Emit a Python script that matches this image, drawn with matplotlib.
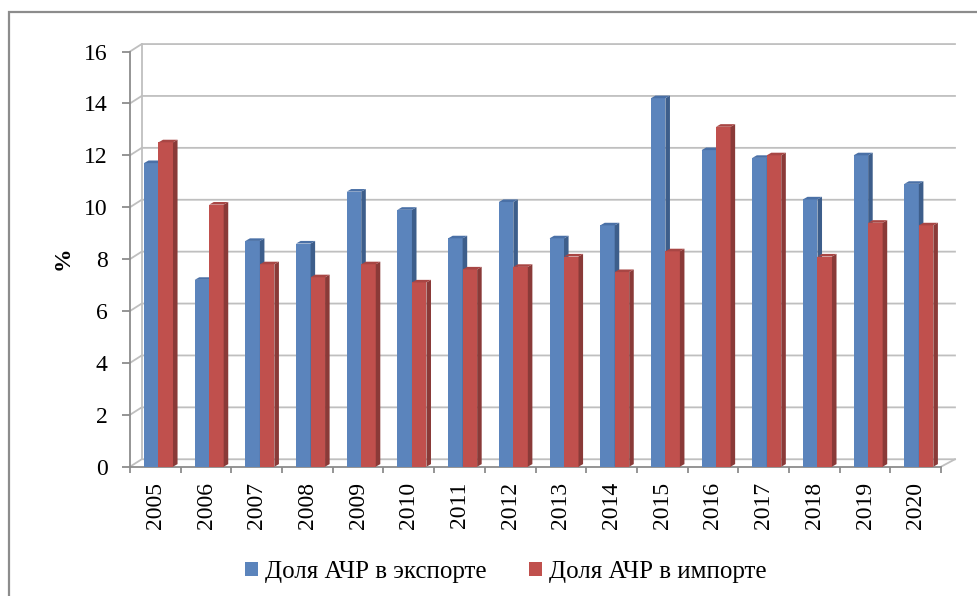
import numpy as np
import matplotlib.pyplot as plt
from matplotlib.patches import Polygon, Patch, Rectangle

# Data
years = ['2005', '2006', '2007', '2008', '2009', '2010', '2011', '2012',
         '2013', '2014', '2015', '2016', '2017', '2018', '2019', '2020']
export_share = [11.7, 7.2, 8.7, 8.6, 10.6, 9.9, 8.8, 10.2,
                8.8, 9.3, 14.2, 12.2, 11.9, 10.3, 12.0, 10.9]
import_share = [12.5, 10.1, 7.8, 7.3, 7.8, 7.1, 7.6, 7.7,
                8.1, 7.5, 8.3, 13.1, 12.0, 8.1, 9.4, 9.3]
labels = ['Доля АЧР в экспорте', 'Доля АЧР в импорте']
y_ticks = list(range(0, 17, 2))

plt.rcParams['font.family'] = ['Liberation Serif', 'DejaVu Serif']

# 3D look config (pseudo depth)
wall_dx, wall_dy = 0.231, 0.287     # back wall offset
bar_w = 0.286
bar_off = 0.276
bar_dx, bar_dy = 0.09, 0.10         # bar depth
grid_col = '#BFBFBF'
axis_col = '#8C8C8C'

fig = plt.figure(figsize=(9.78, 5.96), dpi=100)
W, H = 978, 596
ax = fig.add_axes([130 / W, (596 - 466.7) / H, 830 / W, 428.7 / H])
ax.set_xlim(0, 830 / 50.69)
ax.set_ylim(0, 428.7 / 25.95)
n = len(years)
x = np.arange(n)

# back wall gridlines + floor
right_back = 16.275
for v in y_ticks:
    ax.plot([0, wall_dx, right_back], [v, v + wall_dy, v + wall_dy],
            color=grid_col, lw=1.3, zorder=1, clip_on=False)
ax.plot([wall_dx, wall_dx], [wall_dy, y_ticks[-1] + wall_dy], color=grid_col, lw=1.3, zorder=1)
ax.plot([n, right_back], [0, wall_dy], color=grid_col, lw=1.3, zorder=1)

def draw_bars(xs, vals, front, side, top, z):
    ax.bar(xs, vals, width=bar_w, align='edge', color=front, zorder=z, linewidth=0)
    for xi, v in zip(xs, vals):
        ax.add_patch(Polygon([(xi + bar_w, 0), (xi + bar_w + bar_dx, bar_dy),
                              (xi + bar_w + bar_dx, v + bar_dy), (xi + bar_w, v)],
                             closed=True, facecolor=side, edgecolor='none', zorder=z + 0.1))
        ax.add_patch(Polygon([(xi, v), (xi + bar_dx, v + bar_dy),
                              (xi + bar_w + bar_dx, v + bar_dy), (xi + bar_w, v)],
                             closed=True, facecolor=top, edgecolor='none', zorder=z + 0.1))

draw_bars(x + bar_off, export_share, '#5B84BC', '#3D5E8B', '#4A70A6', 3)
draw_bars(x + bar_off + bar_w, import_share, '#C0504D', '#8A3A38', '#A84644', 4)

# axes styling
for s in ['top', 'right']:
    ax.spines[s].set_visible(False)
for s in ['left', 'bottom']:
    ax.spines[s].set_color(axis_col)
    ax.spines[s].set_linewidth(1.3)
ax.spines['left'].set_bounds(0, 16)
ax.spines['bottom'].set_bounds(0, n)

ax.set_yticks(y_ticks)
ax.tick_params(axis='y', direction='out', length=6, width=1.3, color=axis_col,
               labelsize=17, pad=10)
ax.set_xticks(x + 0.5)
ax.set_xticklabels(years, rotation=90, fontsize=17)
ax.tick_params(axis='x', which='major', length=0, pad=11)
ax.set_xticks(np.arange(n + 1), minor=True)
ax.tick_params(axis='x', which='minor', direction='out', length=4, width=1.3, color=axis_col)
for t in ax.get_xticklabels():
    t.set_va('top')

ax.set_ylabel('%', fontsize=17, fontweight='bold')
ax.yaxis.set_label_coords(-0.0675, 0.487)

handles = [Patch(facecolor='#5B84BC'), Patch(facecolor='#C0504D')]
fig.legend(handles, labels, loc='center', bbox_to_anchor=(506 / W, 1 - 572 / H),
           ncol=2, frameon=False, fontsize=18, handlelength=0.5, handleheight=0.5,
           handletextpad=0.3, columnspacing=1.7)

# outer frame
fig.add_artist(Rectangle((9 / W, -0.1), 1.2, 0.1 + (596 - 12) / H, transform=fig.transFigure,
                         fill=False, edgecolor='#8C8C8C', lw=1.6))

fig.savefig('out.png', dpi=100)
